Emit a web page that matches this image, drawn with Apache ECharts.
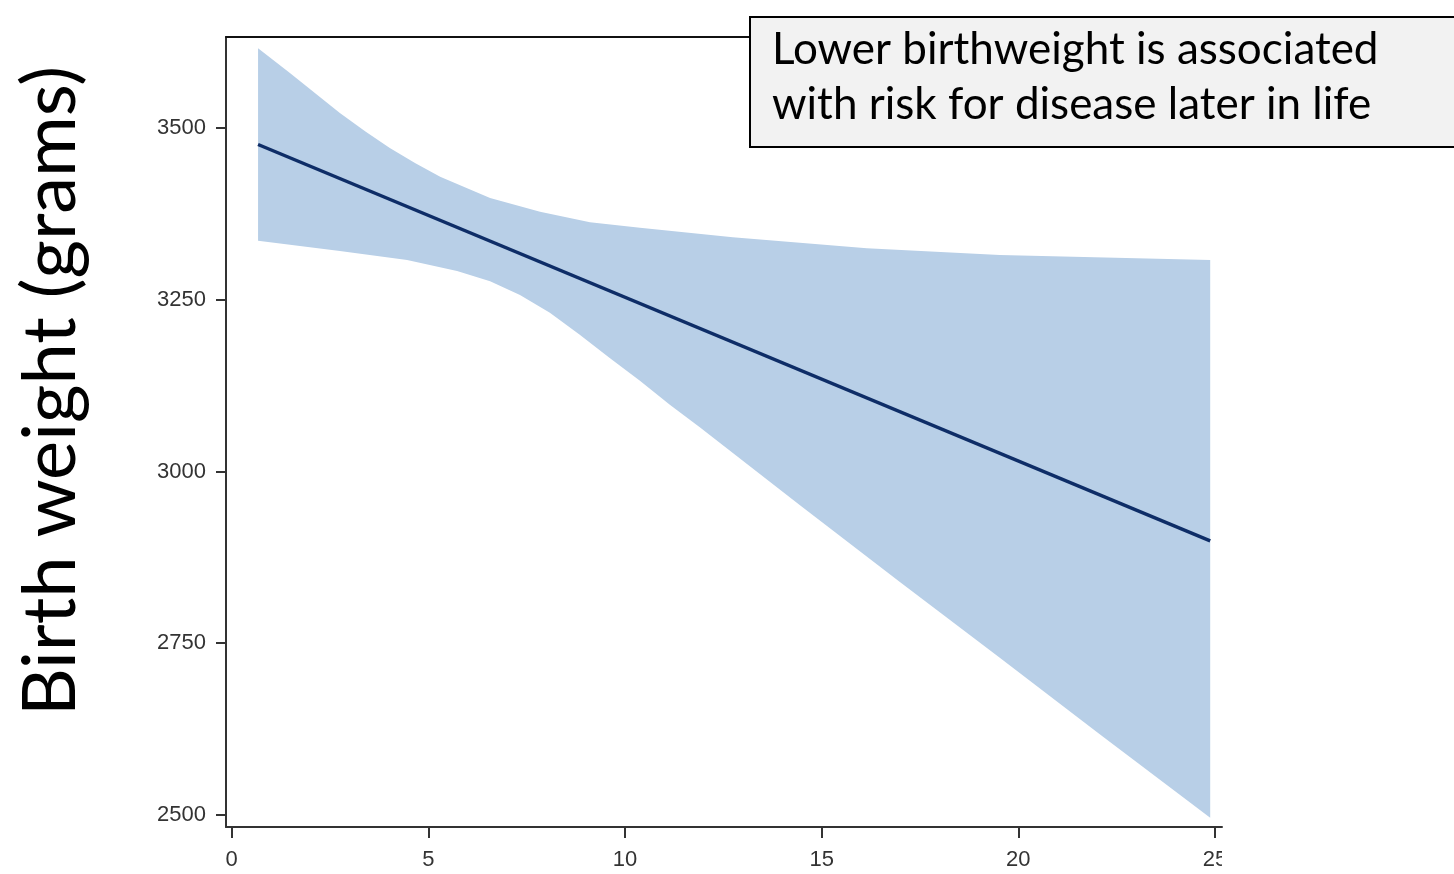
<!DOCTYPE html>
<html>
<head>
<meta charset="utf-8">
<script src="https://cdn.jsdelivr.net/npm/echarts@6/dist/echarts.min.js"></script>
<style>
html,body{margin:0;padding:0;background:#fff;}
#chart{width:1454px;height:874px;}
</style>
</head>
<body>
<div id="chart"></div>
<script>
// Tick labels
const xTicks = [0, 5, 10, 15, 20, 25];
const yTicks = [2500, 2750, 3000, 3250, 3500];

// Upper confidence limit (x, birth weight)
const upperX = [0.67, 1.48, 2.75, 3.40, 4.02, 4.66, 5.30, 6.57, 7.84, 9.11, 10.38, 12.74, 16.15, 19.53, 24.88];
const upperY = [3616, 3580, 3522, 3495, 3471, 3449, 3429, 3398, 3378, 3363, 3355, 3341, 3325, 3315, 3308];

// Lower confidence limit
const lowerX = [0.67, 2.75, 4.46, 5.73, 6.57, 7.33, 8.09, 8.85, 9.62, 10.38, 11.14, 11.91, 14.45, 16.99, 19.53, 22.08, 24.88];
const lowerY = [3336, 3321, 3308, 3292, 3277, 3257, 3231, 3199, 3165, 3132, 3097, 3064, 2951, 2839, 2729, 2617, 2496];

// Fitted line
const lineX = [0.67, 24.88];
const lineY = [3476, 2899];

const chart = echarts.init(document.getElementById('chart'), null, {renderer: 'canvas'});

const axisColor = '#333';
const labelStyle = {fontSize: 22, color: '#333', fontFamily: 'Liberation Sans'};
const option = {
  animation: false,
  backgroundColor: '#fff',
  grid: {left: 226, top: 37, right: 232, bottom: 47},
  xAxis: [{
    type: 'value', min: -0.145, max: 25.18, position: 'bottom',
    axisLine: {show: true, onZero: false, lineStyle: {color: axisColor, width: 2}},
    axisTick: {show: true, customValues: xTicks, length: 11, lineStyle: {color: axisColor, width: 2}},
    axisLabel: Object.assign({customValues: xTicks, margin: 22, formatter: v => String(v)}, labelStyle),
    splitLine: {show: false}
  }, {
    type: 'value', min: -0.145, max: 25.18, position: 'top',
    axisLine: {show: true, onZero: false, lineStyle: {color: '#111', width: 2}},
    axisTick: {show: false}, axisLabel: {show: false}, splitLine: {show: false}
  }],
  yAxis: [{
    type: 'value', min: 2482.5, max: 3632.5,
    axisLine: {show: true, onZero: false, lineStyle: {color: axisColor, width: 2}},
    axisTick: {show: true, customValues: yTicks, length: 10, lineStyle: {color: axisColor, width: 2}},
    axisLabel: Object.assign({customValues: yTicks, margin: 20, formatter: v => String(v)}, labelStyle),
    splitLine: {show: false}
  }],
  series: [{
    type: 'custom',
    silent: true,
    z: 1,
    data: [[upperX[0], upperY[0]]],
    renderItem: function (params, api) {
      const pts = [];
      for (let i = 0; i < upperX.length; i++) pts.push(api.coord([upperX[i], upperY[i]]));
      for (let i = lowerX.length - 1; i >= 0; i--) pts.push(api.coord([lowerX[i], lowerY[i]]));
      return {type: 'polygon', shape: {points: pts}, style: {fill: '#b8cfe7'}};
    }
  }, {
    type: 'line',
    z: 3,
    symbol: 'none',
    data: lineX.map((x, i) => [x, lineY[i]]),
    lineStyle: {color: '#0e2d67', width: 3.5}
  }],
  graphic: [
    {type: 'rect', z: 100, shape: {x: 1222, y: 835, width: 240, height: 45}, style: {fill: '#fff'}},
    {type: 'text', z: 100, x: 51, y: 391, rotation: Math.PI / 2,
      style: {text: 'Birth weight (grams)', font: '74px Lato', fill: '#000', textAlign: 'center', textVerticalAlign: 'middle'}},
    {type: 'rect', z: 100, shape: {x: 750, y: 17, width: 710, height: 130},
      style: {fill: '#f2f2f2', stroke: '#000', lineWidth: 2}},
    {type: 'text', z: 101, x: 772, y: 50,
      style: {text: 'Lower birthweight is associated', font: '44px Lato', fill: '#000', textAlign: 'left', textVerticalAlign: 'middle'}},
    {type: 'text', z: 101, x: 772, y: 105,
      style: {text: 'with risk for disease later in life', font: '44px Lato', fill: '#000', textAlign: 'left', textVerticalAlign: 'middle'}}
  ]
};
chart.setOption(option);
</script>
</body>
</html>
